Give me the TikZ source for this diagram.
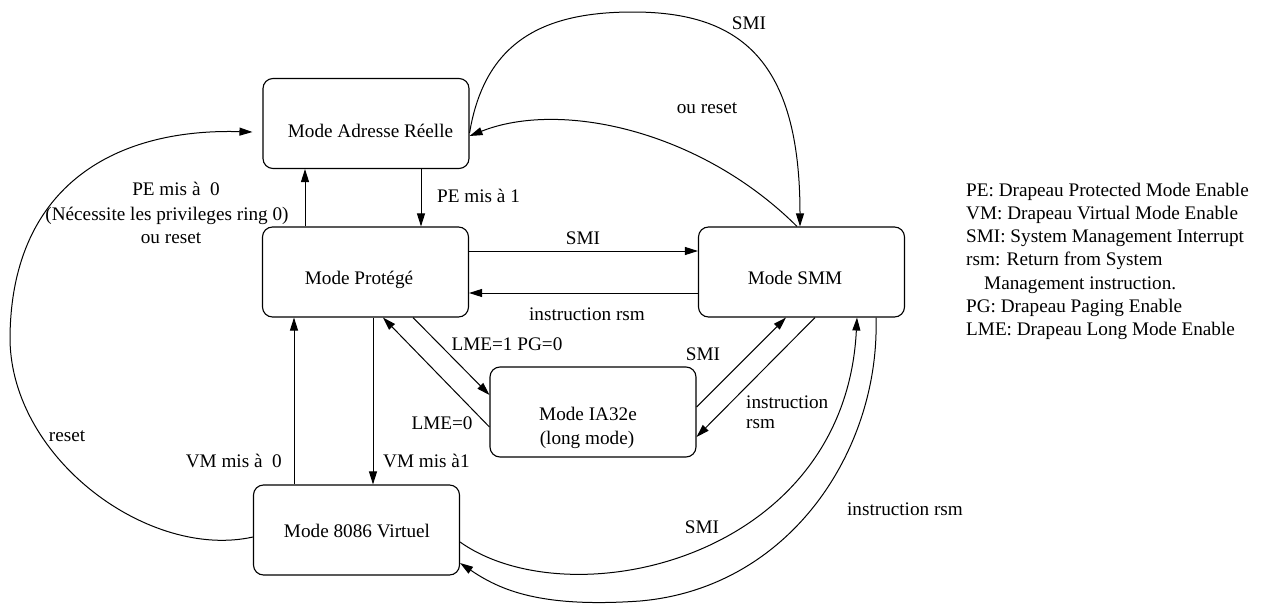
\documentclass[tikz,border=0pt]{standalone}
\usepackage{fontspec}
\setmainfont{Liberation Serif}
\usetikzlibrary{arrows.meta,calc}
\begin{document}
\begin{tikzpicture}[x=1pt,y=-1pt,
  mode/.style={draw,rounded corners=10pt,line width=1.1pt,minimum width=206pt,minimum height=90pt,inner sep=0pt},
  lbl/.style={font=\fontsize{19.2}{20}\selectfont,inner sep=0pt,anchor=base},
  lblw/.style={lbl,anchor=base west},
  lble/.style={lbl,anchor=base east},
  conn/.style={line width=1pt,-{Triangle[length=13pt,width=8pt]}},
]
\useasboundingbox (0,0) rectangle (1262,605);

% states
\node[mode] (real) at (366,123.5) {};
\node[mode] (prot) at (365.5,272) {};
\node[mode] (smm)  at (801.5,272) {};
\node[mode] (ia)   at (593,412) {};
\node[mode] (v86)  at (356.5,530) {};

\node[lbl] (realtxt) at (370.5,137) {Mode Adresse Réelle};
\node[lbl] (prottxt) at (359,284.5) {Mode Protégé};
\node[lbl] (smmtxt)  at (795,284.5) {Mode SMM};
\node[lbl] (iatxt)   at (588,420) {Mode IA32e};
\node[lbl] (iatxtb)  at (587,444) {(long mode)};
\node[lbl] (v86txt)  at (357,537) {Mode 8086 Virtuel};

% straight transitions
\draw[conn] (real.south -| 421,0) -- (prot.north -| 421,0);
\draw[conn] (prot.north -| 305,0) -- (real.south -| 305,0);
\draw[conn] (prot.east |- 0,251) -- (smm.west |- 0,251);
\draw[conn] (smm.west |- 0,293) -- (prot.east |- 0,293);
\draw[conn] (prot.south -| 413,0) -- (ia.west |- 0,395);
\draw[conn] (ia.west |- 0,427) -- (prot.south -| 383,0);
\draw[conn] (ia.east |- 0,407) -- (smm.south -| 786,0);
\draw[conn] (smm.south -| 815,0) -- (ia.east |- 0,437);
\draw[conn] (prot.south -| 373,0) -- (v86.north -| 373,0);
\draw[conn] (v86.north -| 294,0) -- (prot.south -| 294,0);

% curved transitions
\coordinate (resetend) at ($(real.west)+(-10,8.5)$);
\coordinate (resetstart) at ($(v86.west)+(0,7)$);
\draw[conn] (real.east |- 0,133) .. controls (485,40) and (545,12) .. (633,12)
  .. controls (740,12) and (800,60) .. (smm.north -| 800,0);
\draw[conn] (smm.north -| 797,0) .. controls (700,130) and (560,100) .. (real.east |- 0,136);
\draw[conn] (resetstart) .. controls (150,560) and (12,460) .. (10,340)
  .. controls (10,190) and (110,128) .. (resetend);
\draw[conn] ($(v86.east)+(0,12)$) .. controls (570,620) and (845,560) .. (smm.south -| 857,0);
\draw[conn] (smm.south -| 876,0) .. controls (880,450) and (790,588) .. (640,601)
  .. controls (540,608) and (500,590) .. ($(v86.east)+(0,33)$);

% transition labels
\node[lblw] (l1) at (437,202) {PE mis à 1};
\node[lbl] (l2a) at (176,195) {PE mis à\ \ 0};
\node[lbl] (l2b) at (167,220) {(Nécessite les privileges ring 0)};
\node[lbl] (l2c) at (171,243) {ou reset};
\node[lbl] (l3) at (583,244) {SMI};
\node[lbl] (l4) at (587,320) {instruction rsm};
\node[lbl] (l5) at (507,350) {LME=1 PG=0};
\node[lbl] (l6) at (703,360) {SMI};
\node[lbl] (l7) at (442,429) {LME=0};
\node[lblw] (l8a) at (746,408) {instruction};
\node[lblw] (l8b) at (746,428) {rsm};
\node[lblw] (l9) at (383,467) {VM mis à1};
\node[lble] (l10) at (282,467) {VM mis à\ \ 0};
\node[lbl] (l11) at (67,441) {reset};
\node[lbl] (l12) at (749,30) {SMI};
\node[lbl] (l13) at (707,113) {ou reset};
\node[lbl] (l14) at (702,533) {SMI};
\node[lbl] (l15) at (905,515) {instruction rsm};

% legend
\node[lblw] (g1) at (966,196)   {PE: Drapeau Protected Mode Enable};
\node[lblw] (g2) at (966,219.3) {VM: Drapeau Virtual Mode Enable};
\node[lblw] (g3) at (966,242.6) {SMI: System Management Interrupt};
\node[lblw] (g4) at (966,265.9) {rsm: Return from System};
\node[lblw] (g5) at (984,289.2) {Management instruction.};
\node[lblw] (g6) at (966,312.5) {PG: Drapeau Paging Enable};
\node[lblw] (g7) at (966,335.8) {LME: Drapeau Long Mode Enable};
\end{tikzpicture}
\end{document}
